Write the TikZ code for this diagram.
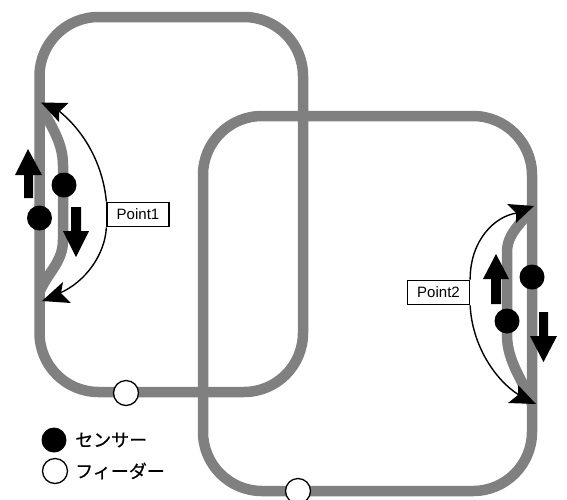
\documentclass[tikz,border=0pt]{standalone}
\usepackage{fontspec}
\setmainfont{Liberation Sans}
\newfontfamily\cjk[FakeBold=0.5]{Noto Sans CJK JP}
\usetikzlibrary{arrows.meta}
\tikzset{
  track/.style={draw=trackgray,line width=10.5pt,line join=round},
  sensor/.style={circle,fill=black,draw=none,minimum size=25pt,inner sep=0pt},
  feeder/.style={circle,fill=white,draw=black,line width=1.3pt,minimum size=25pt,inner sep=0pt},
  pointbox/.style={draw=black,fill=white,line width=1.3pt,minimum width=62pt,minimum height=24.5pt,inner sep=0pt,font=\fontsize{15}{17}\selectfont},
  legendtext/.style={anchor=west,inner sep=0pt,font=\cjk\fontsize{18}{20}\selectfont},
  pointer/.style={draw=black,line width=1.4pt},
  pointerhead/.style={fill=black,draw=none},
  blockarrow/.style={fill=black,draw=none}
}
\definecolor{trackgray}{gray}{0.5}
\begin{document}
\begin{tikzpicture}[x=1pt,y=-1pt]
\useasboundingbox (0,0) rectangle (567,499);
% tracks
\draw[track,rounded corners=59pt] (39.5,17) rectangle (303,392);
\draw[track,rounded corners=59pt] (203,116) rectangle (532,491);
\draw[track] (39.5,103) .. controls (48,122) and (63,140) .. (63,165) -- (63,240) .. controls (63,262) and (48,272) .. (39.5,292);
\draw[track] (532,207) .. controls (524,222) and (507,232) .. (507,252) -- (507,335) .. controls (507,362) and (524,382) .. (532,404);
% block arrows
\fill[blockarrow] (28,149) -- (42,175) -- (33,175) -- (33,198) -- (24,198) -- (24,175) -- (15,175) -- cycle;
\fill[blockarrow] (76,257) -- (89,231) -- (81,231) -- (81,207) -- (71,207) -- (71,231) -- (63,231) -- cycle;
\fill[blockarrow] (496,254) -- (509,279) -- (501,279) -- (501,304) -- (491,304) -- (491,279) -- (483,279) -- cycle;
\fill[blockarrow] (543.5,362) -- (557,336) -- (548,336) -- (548,312) -- (539,312) -- (539,336) -- (530,336) -- cycle;
% sensors
\node[sensor] (s1) at (64,185) {};
\node[sensor] (s2) at (39.5,218) {};
\node[sensor] (s3) at (532,277) {};
\node[sensor] (s4) at (507,321) {};
% feeders
\node[feeder] (f1) at (126,393) {};
\node[feeder] (f2) at (298,491) {};
% point boxes and pointers
\node[pointbox] (p1) at (138,214.5) {Point1};
\node[pointbox] (p2) at (438.5,292.5) {Point2};
\coordinate (p1a) at (59,111);
\coordinate (p1b) at (60,293);
\coordinate (p2a) at (517,213);
\coordinate (p2b) at (519,395);
\draw[pointer] (p1.north west) .. controls (103,165) and (85,132) .. (p1a);
\draw[pointer] (p1.south west) .. controls (105,255) and (85,282) .. (p1b);
\draw[pointer] (p2.north east) .. controls (470,240) and (495,216) .. (p2a);
\draw[pointer] (p2.south east) .. controls (472,345) and (495,380) .. (p2b);
\fill[pointerhead] (41,102.5) -- (68.5,103) -- (59,112) -- (59,122) -- cycle;
\fill[pointerhead] (42,301) -- (71,303) -- (61,293) -- (63,282) -- cycle;
\fill[pointerhead] (534,206) -- (507,204) -- (516,213) -- (516,223) -- cycle;
\fill[pointerhead] (536,404) -- (508,403) -- (518,395) -- (518,385) -- cycle;
% legend
\node[sensor] (ls) at (54,440) {};
\node[feeder] (lf) at (55,471) {};
\node[legendtext] (lst) at (75,440) {センサー};
\node[legendtext] (lft) at (75,471) {フィーダー};
\end{tikzpicture}
\end{document}
